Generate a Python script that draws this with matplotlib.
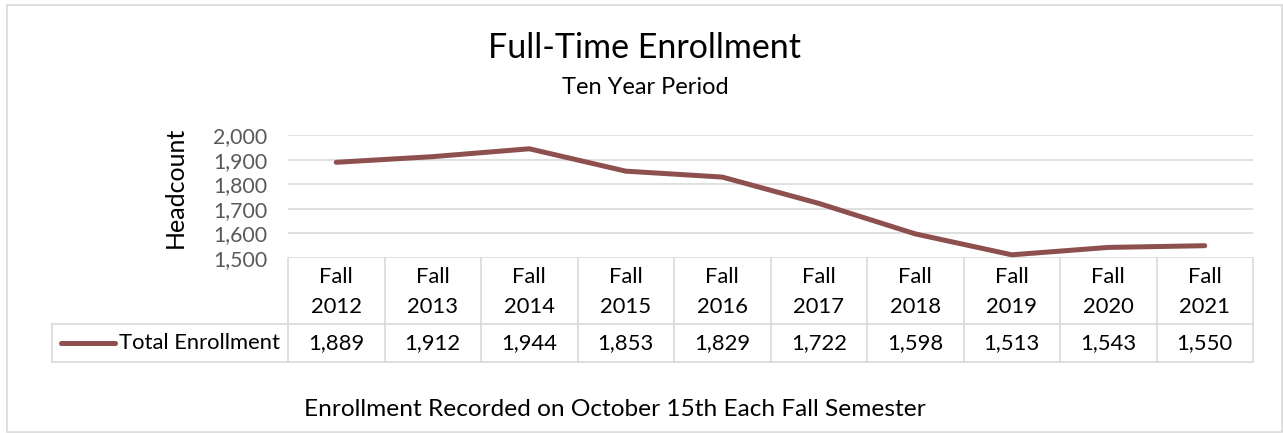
import matplotlib.pyplot as plt
from matplotlib.patches import Rectangle

years = ['2012', '2013', '2014', '2015', '2016', '2017', '2018', '2019', '2020', '2021']
enrollment = [1889, 1912, 1944, 1853, 1829, 1722, 1598, 1513, 1543, 1550]
series_name = 'Total Enrollment'
y_ticks = [1500, 1600, 1700, 1800, 1900, 2000]

LINE_COLOR = '#8E4F4F'
GRID_COLOR = '#D9D9D9'
TICK_COLOR = '#595959'
W, H = 1283, 433

plt.rcParams['font.family'] = ['Lato', 'DejaVu Sans']


def px_box(x0, y0, x1, y1):
    # pixel box (top-left origin) -> figure fraction rect
    return [x0 / W, 1 - y1 / H, (x1 - x0) / W, (y1 - y0) / H]


fig = plt.figure(figsize=(W / 100, H / 100), dpi=100)

# outer chart border
fig.patches.append(Rectangle((7 / W, 1 - 432 / H), 1275 / W, 427 / H,
                             transform=fig.transFigure, fill=False,
                             edgecolor=GRID_COLOR, linewidth=1.2))

# plot area
ax = fig.add_axes(px_box(288, 135, 1253, 258))
n = len(years)
xs = [i + 0.5 for i in range(n)]
ax.plot(xs, enrollment, color=LINE_COLOR, linewidth=3.6,
        solid_capstyle='round', solid_joinstyle='round', zorder=3)
ax.set_xlim(0, n)
ax.set_ylim(y_ticks[0], y_ticks[-1])
ax.set_yticks(y_ticks)
ax.set_yticklabels([f'{v:,}' for v in y_ticks], color=TICK_COLOR, fontsize=15.3)
ax.tick_params(axis='y', length=0, pad=15)
ax.set_xticks([])
ax.grid(axis='y', color=GRID_COLOR, linewidth=1.2)
for s in ax.spines.values():
    s.set_visible(False)
fig.text(175 / W, 1 - 187 / H, 'Headcount', rotation=90, ha='center', va='center',
         fontsize=18)

# data table below the plot, in column units
col_w = (1253 - 288) / n
left = (52 - 288) / col_w
tab = fig.add_axes(px_box(52, 258, 1253, 362))
tab.set_xlim(left, n)
tab.set_ylim(104, 0)
tab.axis('off')
head_h, row_h = 66, 38
kw = dict(color=GRID_COLOR, linewidth=1.2, clip_on=False)
for i in range(n + 1):
    tab.plot([i, i], [0, head_h + row_h], **kw)
tab.plot([left, left], [head_h, head_h + row_h], **kw)
tab.plot([left, n], [head_h, head_h], **kw)
tab.plot([left, n], [head_h + row_h, head_h + row_h], **kw)
for i, (yr, v) in enumerate(zip(years, enrollment)):
    tab.text(i + 0.5, head_h / 2 + 1, f'Fall\n{yr}', ha='center', va='center',
             fontsize=15.8, linespacing=1.6)
    tab.text(i + 0.5, head_h + row_h / 2, f'{v:,}', ha='center', va='center',
             fontsize=15.8)
tab.plot([left + 0.09, left + 0.65], [head_h + row_h / 2] * 2, color=LINE_COLOR,
         linewidth=3.6, solid_capstyle='round', clip_on=False)
tab.text(-0.08, head_h + row_h / 2, series_name, ha='right', va='center', fontsize=15.8)

fig.text(645 / W, 1 - 48 / H, 'Full-Time Enrollment', ha='center', va='center', fontsize=24.5)
fig.text(645 / W, 1 - 87 / H, 'Ten Year Period', ha='center', va='center', fontsize=17)
fig.text(615 / W, 1 - 410 / H, 'Enrollment Recorded on October 15th Each Fall Semester',
         ha='center', va='center', fontsize=17.6)

fig.savefig('out.png', dpi=100)
